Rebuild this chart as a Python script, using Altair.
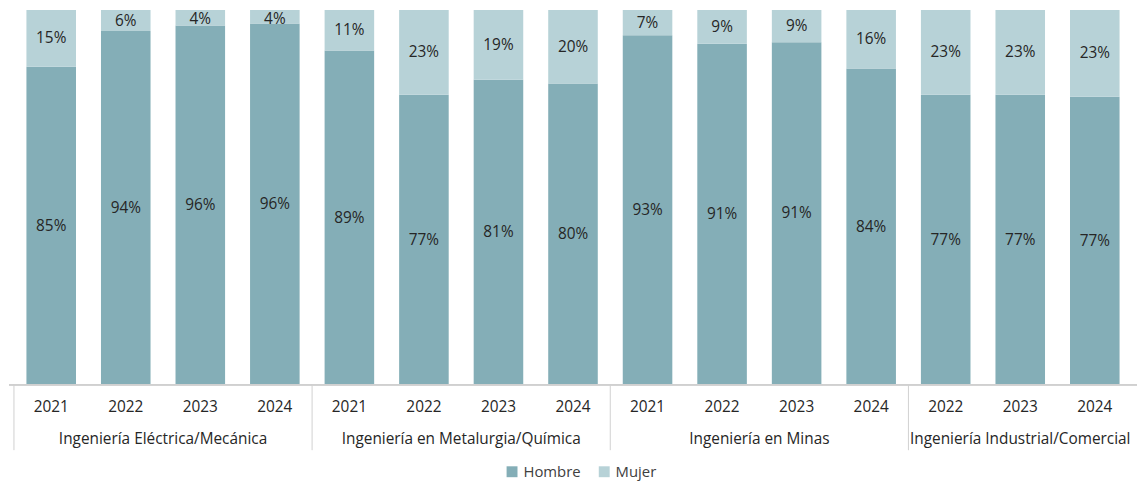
import altair as alt
import pandas as pd

grupos = [
    "Ingeniería Eléctrica/Mecánica",
    "Ingeniería en Metalurgia/Química",
    "Ingeniería en Minas",
    "Ingeniería Industrial/Comercial",
]
anios_por_grupo = [
    ["2021", "2022", "2023", "2024"],
    ["2021", "2022", "2023", "2024"],
    ["2021", "2022", "2023", "2024"],
    ["2022", "2023", "2024"],
]
hombre = [84.9, 94.4, 95.9, 96.4, 89.2, 77.4, 81.4, 80.4, 93.3, 91.0, 91.4, 84.4, 77.4, 77.4, 76.9]
mujer = [15.1, 5.6, 4.1, 3.6, 10.8, 22.6, 18.6, 19.6, 6.7, 9.0, 8.6, 15.6, 22.6, 22.6, 23.1]
series = ["Hombre", "Mujer"]
colores = ["#84AEB7", "#B7D2D7"]

FONT = "Open Sans"
FS = 15.5
W, H = 1138, 378

bars = []
i = 0
for g, anios in zip(grupos, anios_por_grupo):
    for a in anios:
        bars.append({"idx": i, "grupo": g, "anio": a})
        i += 1
bars_df = pd.DataFrame(bars)

rows = []
for b, h, m in zip(bars, hombre, mujer):
    rows.append({**b, "sexo": "Hombre", "orden": 0, "valor": h})
    rows.append({**b, "sexo": "Mujer", "orden": 1, "valor": m})
df = pd.DataFrame(rows)

n = len(bars)
xscale = alt.Scale(domain=[-0.5, n - 0.5], nice=False, zero=False)
yscale = alt.Scale(domain=[0, 100], nice=False)

base = alt.Chart(df)

barras = base.mark_bar(width=50).encode(
    x=alt.X("idx:Q", scale=xscale, axis=None),
    y=alt.Y("valor:Q", stack="zero", scale=yscale, axis=None),
    color=alt.Color(
        "sexo:N",
        scale=alt.Scale(domain=series, range=colores),
        legend=alt.Legend(
            title=None,
            orient="none",
            legendX=500,
            legendY=458,
            direction="horizontal",
            symbolType="square",
            symbolSize=121,
            symbolStrokeWidth=0,
            labelFont=FONT,
            labelFontSize=15,
            labelColor="#404040",
            labelOffset=4,
            columnPadding=16,
            padding=0,
        ),
    ),
    order=alt.Order("orden:Q"),
)

etiquetas = (
    base.transform_stack(
        stack="valor", groupby=["idx"], as_=["y0", "y1"], sort=[alt.SortField("orden")]
    )
    .transform_calculate(
        ymid="min((datum.y0 + datum.y1) / 2, 97.6)",
        txt="format(round(datum.valor), 'd') + '%'",
    )
    .mark_text(font=FONT, fontSize=FS, color="#262626", baseline="middle")
    .encode(
        x=alt.X("idx:Q", scale=xscale),
        y=alt.Y("ymid:Q", scale=yscale),
        text="txt:N",
    )
)

linea_eje = alt.Chart(bars_df).mark_rule(color="#D0D0D0", strokeWidth=1).encode(
    x=alt.value(0), x2=alt.value(W), y=alt.value(H)
)

bars_base = alt.Chart(bars_df)

anios_txt = bars_base.mark_text(
    font=FONT, fontSize=FS, color="#262626", baseline="middle"
).encode(
    x=alt.X("idx:Q", scale=xscale),
    y=alt.value(H + 22),
    text="anio:N",
)

grupo_txt = (
    bars_base.transform_aggregate(centro="mean(idx)", groupby=["grupo"])
    .mark_text(font=FONT, fontSize=FS, color="#262626", baseline="middle")
    .encode(
        x=alt.X("centro:Q", scale=xscale),
        y=alt.value(H + 55),
        text="grupo:N",
    )
)

separadores = (
    bars_base.transform_aggregate(inicio="min(idx)", groupby=["grupo"])
    .transform_calculate(sep="datum.inicio - 0.5")
    .mark_rule(color="#D0D0D0", strokeWidth=1)
    .encode(
        x=alt.X("sep:Q", scale=xscale),
        y=alt.value(H),
        y2=alt.value(H + 66),
    )
)

chart = (
    alt.layer(barras, etiquetas, linea_eje, separadores, anios_txt, grupo_txt)
    .properties(width=W, height=H, padding=0, background="white")
    .configure_view(stroke=None)
)

chart.save("out.html", embed_options={"renderer": "svg", "actions": False})
